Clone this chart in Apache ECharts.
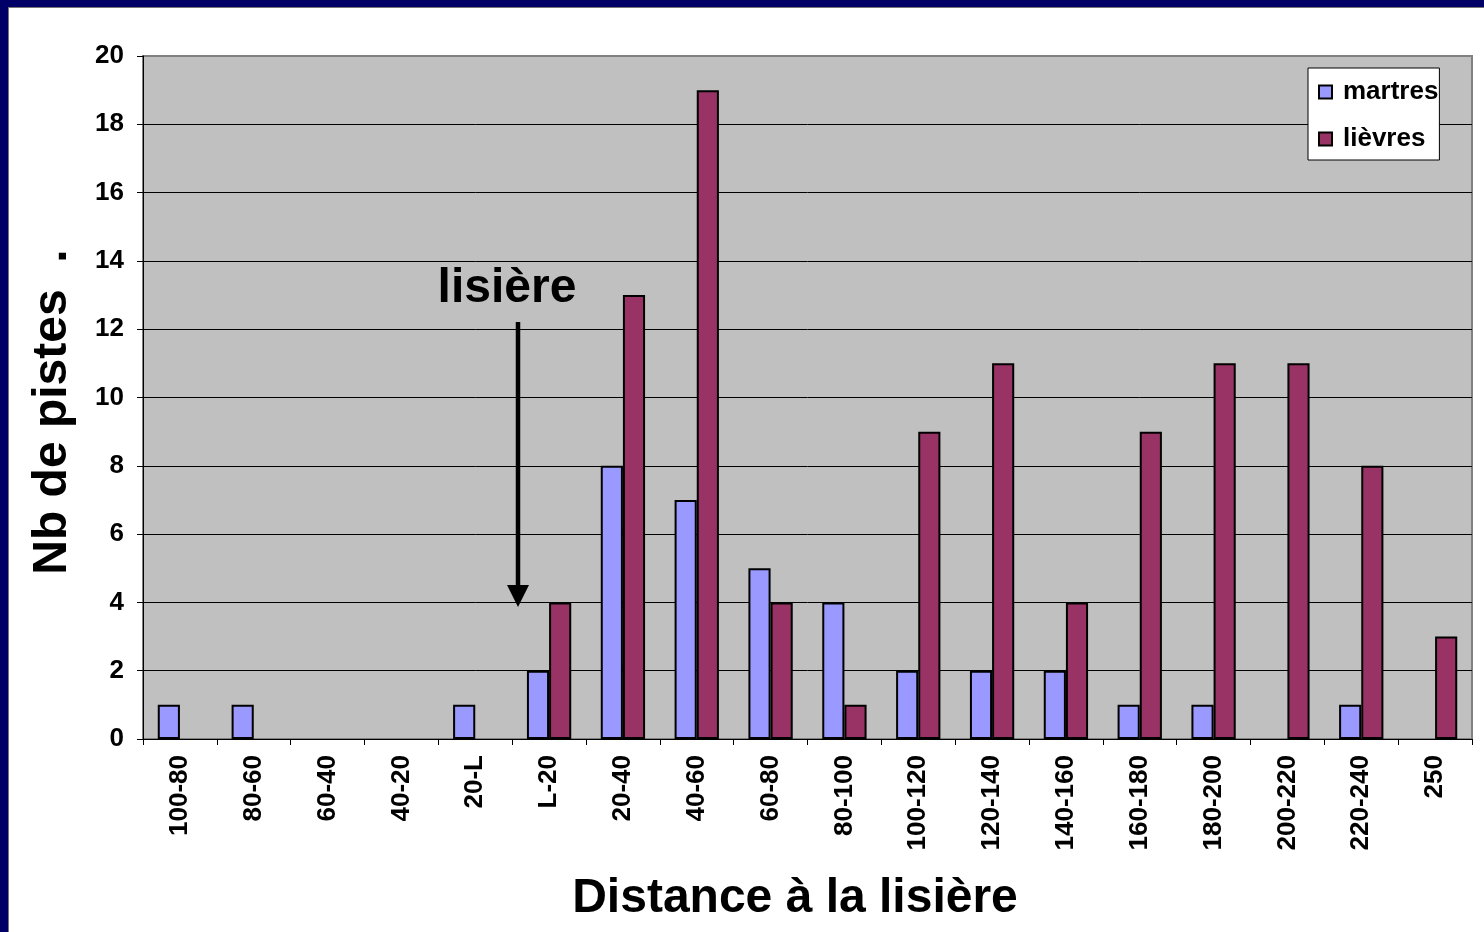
<!DOCTYPE html>
<html>
<head>
<meta charset="utf-8">
<script src="https://cdn.jsdelivr.net/npm/echarts@6/dist/echarts.min.js"></script>
<style>
  html, body { margin: 0; padding: 0; background: #fff; }
  #chart { width: 1484px; height: 932px; }
</style>
</head>
<body>
<div id="chart"></div>
<script>
const categories = [
  '100-80', '80-60', '60-40', '40-20', '20-L', 'L-20', '20-40', '40-60', '60-80',
  '80-100', '100-120', '120-140', '140-160', '160-180', '180-200', '200-220', '220-240', '250'
];
const martres = [1, 1, 0, 0, 1, 2, 8, 7, 5, 4, 2, 2, 2, 1, 1, 0, 1, 0];
const lievres = [0, 0, 0, 0, 0, 4, 13, 19, 4, 1, 9, 11, 4, 9, 11, 11, 8, 3];
const yTicks = { min: 0, max: 20, interval: 2 };

const font = 'Liberation Sans, Arial, Helvetica, sans-serif';
const navy = '#000066';

// Excel leaves empty cells for zero counts
const toBars = arr => arr.map(v => (v === 0 ? '-' : v));

const option = {
  animation: false,
  backgroundColor: '#fff',
  textStyle: { fontFamily: font },
  grid: {
    left: 143,
    top: 56,
    right: 12,
    bottom: 193,
    show: true,
    backgroundColor: '#c0c0c0',
    borderColor: '#808080',
    borderWidth: 2
  },
  legend: {
    orient: 'vertical',
    left: 1308,
    top: 68,
    padding: [11, 1, 8, 10],
    itemWidth: 13,
    itemHeight: 13,
    itemGap: 21,
    backgroundColor: '#fff',
    borderColor: '#000',
    borderWidth: 1,
    borderRadius: 0,
    icon: 'rect',
    textStyle: { fontSize: 26, fontWeight: 'bold', color: '#000', fontFamily: font, padding: [0, 0, 0, 6] },
    data: ['martres', 'lièvres']
  },
  xAxis: {
    type: 'category',
    data: categories,
    axisLine: { lineStyle: { color: '#000', width: 1 } },
    axisTick: { show: true, length: 6, lineStyle: { color: '#000' } },
    axisLabel: {
      rotate: 90,
      margin: 16,
      interval: 0,
      fontSize: 26,
      fontWeight: 'bold',
      color: '#000',
      fontFamily: font
    },
    splitLine: { show: false }
  },
  yAxis: {
    type: 'value',
    min: yTicks.min,
    max: yTicks.max,
    interval: yTicks.interval,
    axisLine: { show: true, lineStyle: { color: '#000', width: 1 } },
    axisTick: { show: true, length: 6, lineStyle: { color: '#000' } },
    axisLabel: {
      margin: 19,
      fontSize: 26,
      fontWeight: 'bold',
      color: '#000',
      fontFamily: font
    },
    splitLine: {
      showMaxLine: false,
      lineStyle: { color: '#000', width: 1 }
    }
  },
  series: [
    {
      name: 'martres',
      type: 'bar',
      data: toBars(martres),
      barGap: '0%',
      barCategoryGap: '40%',
      itemStyle: { color: '#9999ff', borderColor: '#000', borderWidth: 2 }
    },
    {
      name: 'lièvres',
      type: 'bar',
      data: toBars(lievres),
      barGap: '0%',
      barCategoryGap: '40%',
      itemStyle: { color: '#993366', borderColor: '#000', borderWidth: 2 }
    }
  ],
  graphic: [
    // slide frame
    { type: 'rect', z: 100, shape: { x: 0, y: 0, width: 1484, height: 7 }, style: { fill: navy } },
    { type: 'rect', z: 100, shape: { x: 0, y: 0, width: 8, height: 932 }, style: { fill: navy } },
    { type: 'rect', z: 99, shape: { x: 8, y: 7, width: 1476, height: 1 }, style: { fill: '#777' } },
    { type: 'rect', z: 99, shape: { x: 8, y: 7, width: 1, height: 925 }, style: { fill: '#777' } },
    // axis titles
    {
      type: 'text',
      x: 53,
      y: 412,
      rotation: Math.PI / 2,
      style: {
        text: 'Nb de pistes  .',
        font: 'bold 48px ' + font,
        fill: '#000',
        align: 'center',
        verticalAlign: 'middle'
      }
    },
    {
      type: 'text',
      x: 795,
      y: 899,
      style: {
        text: 'Distance à la lisière',
        font: 'bold 48px ' + font,
        fill: '#000',
        align: 'center',
        verticalAlign: 'middle'
      }
    },
    // edge annotation
    {
      type: 'text',
      x: 507,
      y: 289,
      z: 50,
      style: {
        text: 'lisière',
        font: 'bold 48px ' + font,
        fill: '#000',
        align: 'center',
        verticalAlign: 'middle'
      }
    },
    {
      type: 'line',
      z: 50,
      shape: { x1: 518, y1: 322, x2: 518, y2: 592 },
      style: { stroke: '#000', lineWidth: 4.5 }
    },
    {
      type: 'polygon',
      z: 50,
      shape: { points: [[507, 585], [529, 585], [518, 607]] },
      style: { fill: '#000' }
    }
  ]
};

const chart = echarts.init(document.getElementById('chart'));
chart.setOption(option);
</script>
</body>
</html>
